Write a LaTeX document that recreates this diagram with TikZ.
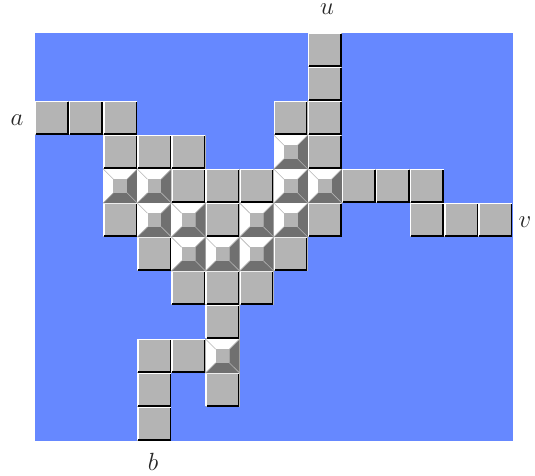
\documentclass[tikz,border=0pt]{standalone}
\usepackage{xcolor}
\definecolor{fieldblue}{RGB}{102, 136, 255}
\definecolor{cellgray}{RGB}{180, 180, 180}
\definecolor{slopegray}{RGB}{112, 112, 112}
\tikzset{
	plaincell/.pic={
		\fill[cellgray] (0,0) rectangle (1,1);
		\draw[white, line width=1.4pt] (0.02,0.98) -- (0.02,0.02) -- (0.98,0.02);
		\draw[black, line width=1.4pt] (0.97,0.03) -- (0.97,0.97) -- (0.03,0.97);
	},
	pyrcell/.pic={
		\fill[white] (0,0) rectangle (1,1);
		\fill[slopegray] (1,0) -- (0.7,0.3) -- (0.7,0.7) -- (0.3,0.7) -- (0,1) -- (1,1) -- cycle;
		\fill[cellgray] (0.3,0.3) rectangle (0.7,0.7);
		\draw[cellgray, line width=0.6pt] (0,0) -- (0.3,0.3) (1,0) -- (0.7,0.3) (1,1) -- (0.7,0.7) (0,1) -- (0.3,0.7);
	},
	letter/.style={font=\fontsize{25}{30}\selectfont, text=black!85, inner sep=0pt}
}
\begin{document}
\begin{tikzpicture}[x=1pt, y=-1pt]
	\useasboundingbox (0,0) rectangle (535,475);
	\fill[fieldblue] (35,33) rectangle (513,441);
	\begin{scope}[shift={(35,33)}, x=34.1pt, y=-34pt]
		\foreach \c/\r in {8/0, 8/1, 0/2, 1/2, 2/2, 7/2, 8/2, 2/3, 3/3, 4/3, 8/3,
			4/4, 5/4, 6/4, 9/4, 10/4, 11/4, 2/5, 5/5, 8/5, 11/5, 12/5, 13/5,
			3/6, 7/6, 4/7, 5/7, 6/7, 5/8, 3/9, 4/9, 3/10, 5/10, 3/11}
			\pic at (\c,\r) {plaincell};
		\foreach \c/\r in {7/3, 2/4, 3/4, 7/4, 8/4, 3/5, 4/5, 6/5, 7/5,
			4/6, 5/6, 6/6, 5/9}
			\pic at (\c,\r) {pyrcell};
	\end{scope}
	\node[letter] (a) at (17,120) {$a$};
	\node[letter] (u) at (327,9) {$u$};
	\node[letter] (v) at (525,222) {$v$};
	\node[letter] (b) at (153,462) {$b$};
\end{tikzpicture}
\end{document}
